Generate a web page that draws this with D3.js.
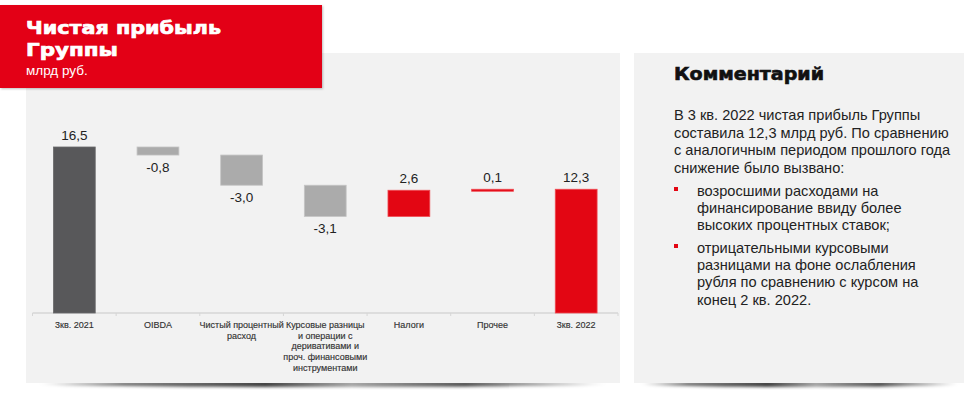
<!DOCTYPE html>
<html lang="ru">
<head>
<meta charset="utf-8">
<title>Чистая прибыль Группы</title>
<script src="https://cdn.jsdelivr.net/npm/d3@7"></script>
<style>
  html, body { margin: 0; padding: 0; background: #fff; }
  svg { display: block; }
  .val { font-family: "Liberation Sans", Arial, sans-serif; font-size: 13.5px; fill: #222; }
  .cat { font-family: "Liberation Sans", Arial, sans-serif; font-size: 9px; fill: #333; stroke: #333; stroke-width: 0.15px; }
  .body { font-family: "Liberation Sans", Arial, sans-serif; font-size: 14.6px; fill: #222; }
</style>
</head>
<body>
<script>
// данные
var categories = ["3кв. 2021", "OIBDA", "Чистый процентный расход",
  "Курсовые разницы и операции с деривативами и проч. финансовыми инструментами",
  "Налоги", "Прочее", "3кв. 2022"];
var catLines = [["3кв. 2021"], ["OIBDA"], ["Чистый процентный", "расход"],
  ["Курсовые разницы", "и операции с", "деривативами и", "проч. финансовыми", "инструментами"],
  ["Налоги"], ["Прочее"], ["3кв. 2022"]];
var values = [16.5, -0.8, -3.0, -3.1, 2.6, 0.1, 12.3];
var isTotal = [true, false, false, false, false, false, true];
var labels = ["16,5", "-0,8", "-3,0", "-3,1", "2,6", "0,1", "12,3"];

var commentLines = ["В 3 кв. 2022 чистая прибыль Группы",
  "составила 12,3 млрд руб. По сравнению",
  "с аналогичным периодом прошлого года",
  "снижение было вызвано:"];
var bullets = [["возросшими расходами на", "финансирование ввиду более", "высоких процентных ставок;"],
  ["отрицательными курсовыми", "разницами на фоне ослабления", "рубля по сравнению с курсом на", "конец 2 кв. 2022."]];

var W = 974, H = 395;
var svg = d3.select("body").append("svg").attr("width", W).attr("height", H);

var defs = svg.append("defs");
var sh = defs.append("linearGradient").attr("id", "shadow");
sh.append("stop").attr("offset", "0%").attr("stop-color", "#000").attr("stop-opacity", 0);
sh.append("stop").attr("offset", "15%").attr("stop-color", "#000").attr("stop-opacity", 0.55);
sh.append("stop").attr("offset", "40%").attr("stop-color", "#000").attr("stop-opacity", 0.75);
sh.append("stop").attr("offset", "55%").attr("stop-color", "#000").attr("stop-opacity", 0.35);
sh.append("stop").attr("offset", "75%").attr("stop-color", "#000").attr("stop-opacity", 0.7);
sh.append("stop").attr("offset", "100%").attr("stop-color", "#000").attr("stop-opacity", 0);
var blur = defs.append("filter").attr("id", "blur").attr("x", "-10%").attr("y", "-200%")
  .attr("width", "120%").attr("height", "500%");
blur.append("feGaussianBlur").attr("stdDeviation", 1.5);
var ds = defs.append("filter").attr("id", "ds");
ds.append("feDropShadow").attr("dx", 1).attr("dy", 1).attr("stdDeviation", 1.2)
  .attr("flood-color", "#000").attr("flood-opacity", 0.25);

// панели
svg.append("ellipse").attr("cx", 323).attr("cy", 384).attr("rx", 285).attr("ry", 3)
  .attr("fill", "url(#shadow)").attr("filter", "url(#blur)");
svg.append("ellipse").attr("cx", 800).attr("cy", 384).attr("rx", 160).attr("ry", 3)
  .attr("fill", "url(#shadow)").attr("filter", "url(#blur)");
svg.append("rect").attr("x", 26).attr("y", 53).attr("width", 594).attr("height", 330).attr("fill", "#f2f2f2");
svg.append("rect").attr("x", 634).attr("y", 53).attr("width", 330).attr("height", 330).attr("fill", "#f2f2f2");

// заголовок
svg.append("rect").attr("x", 0).attr("y", 5).attr("width", 322).attr("height", 83)
  .attr("fill", "#e30613").attr("filter", "url(#ds)");
svg.append("text").attr("x", 26).attr("y", 34).text("Чистая прибыль")
  .attr("font-family", "DejaVu Sans").attr("font-weight", "bold").attr("font-size", 18)
  .attr("fill", "#fff").attr("stroke", "#fff").attr("stroke-width", 0.7)
  .attr("textLength", 195).attr("lengthAdjust", "spacingAndGlyphs");
svg.append("text").attr("x", 26).attr("y", 56).text("Группы")
  .attr("font-family", "DejaVu Sans").attr("font-weight", "bold").attr("font-size", 18)
  .attr("fill", "#fff").attr("stroke", "#fff").attr("stroke-width", 0.7)
  .attr("textLength", 92).attr("lengthAdjust", "spacingAndGlyphs");
svg.append("text").attr("x", 26).attr("y", 75).text("млрд руб.")
  .attr("font-family", "Liberation Sans, Arial, sans-serif").attr("font-size", 13.5).attr("fill", "#fff");

// waterfall
var rows = [];
var level = 0;
values.forEach(function(v, i) {
  var lo, hi;
  if (isTotal[i]) { lo = 0; hi = v; level = v; }
  else { lo = Math.min(level, level + v); hi = Math.max(level, level + v); level += v; }
  rows.push({cat: categories[i], lines: catLines[i], v: v, lo: lo, hi: hi, total: isTotal[i], label: labels[i]});
});

var x = d3.scaleBand().domain(categories).range([32.5, 618]).paddingInner(0.5).paddingOuter(0.25);
var y = d3.scaleLinear().domain([0, 16.5]).range([313, 147]);

function color(d) {
  if (d.total) return d.v === values[0] ? "#58585a" : "#e30613";
  return d.v < 0 ? "#ababab" : "#e30613";
}
function strokeC(d) {
  if (d.total) return d.v === values[0] ? "#6a6a6c" : "#f04a52";
  return d.v < 0 ? "#c4c4c4" : "#f04a52";
}

var g = svg.append("g");

// ось
var axis = d3.axisBottom(x).tickSize(3).tickFormat("");
var ax = g.append("g").attr("transform", "translate(0,313)").call(axis);
ax.select(".domain").attr("stroke", "#d6d6d6").attr("stroke-width", 1.5)
  .attr("d", "M32.5,0H618");
ax.selectAll(".tick").remove();
var bounds = d3.range(categories.length + 1).map(function(i) { return 32.5 + i * x.step(); });
g.selectAll("line.sep").data(bounds).enter().append("line").attr("class", "sep")
  .attr("x1", function(d) { return d; }).attr("x2", function(d) { return d; })
  .attr("y1", 313).attr("y2", 316).attr("stroke", "#d6d6d6");

g.selectAll("rect.bar").data(rows).enter().append("rect").attr("class", "bar")
  .attr("x", function(d) { return x(d.cat); })
  .attr("width", x.bandwidth())
  .attr("y", function(d) { return y(d.hi); })
  .attr("height", function(d) { return Math.max(2, y(d.lo) - y(d.hi)); })
  .attr("fill", color).attr("stroke", strokeC).attr("stroke-width", 0.8);

g.selectAll("text.val").data(rows).enter().append("text").attr("class", "val")
  .attr("text-anchor", "middle")
  .attr("x", function(d) { return x(d.cat) + x.bandwidth() / 2; })
  .attr("y", function(d) { return d.v < 0 ? y(d.lo) + 17 : y(d.hi) - 7; })
  .text(function(d) { return d.label; });

var cl = g.selectAll("text.cat").data(rows).enter().append("text").attr("class", "cat")
  .attr("text-anchor", "middle")
  .attr("x", function(d) { return x(d.cat) + x.bandwidth() / 2; })
  .attr("y", 328);
cl.selectAll("tspan").data(function(d) { return d.lines.map(function(t) { return {t: t, x: x(d.cat) + x.bandwidth() / 2}; }); })
  .enter().append("tspan")
  .attr("x", function(d) { return d.x; })
  .attr("dy", function(d, i) { return i === 0 ? 0 : 10.7; })
  .text(function(d) { return d.t; });

// комментарий
svg.append("text").attr("x", 674).attr("y", 80).text("Комментарий")
  .attr("font-family", "DejaVu Sans").attr("font-weight", "bold").attr("font-size", 17)
  .attr("fill", "#111").attr("stroke", "#111").attr("stroke-width", 0.6)
  .attr("textLength", 150).attr("lengthAdjust", "spacingAndGlyphs");

svg.selectAll("text.cm").data(commentLines).enter().append("text").attr("class", "body cm")
  .attr("x", 674).attr("y", function(d, i) { return 120 + i * 17.5; })
  .text(function(d) { return d; });

var by = [196, 253];
bullets.forEach(function(b, j) {
  svg.append("rect").attr("x", 674).attr("y", by[j] - 9).attr("width", 4).attr("height", 4).attr("fill", "#e30613");
  svg.selectAll("text.b" + j).data(b).enter().append("text").attr("class", "body b" + j)
    .attr("x", 697).attr("y", function(d, i) { return by[j] + i * 17.2; })
    .text(function(d) { return d; });
});
</script>
</body>
</html>
